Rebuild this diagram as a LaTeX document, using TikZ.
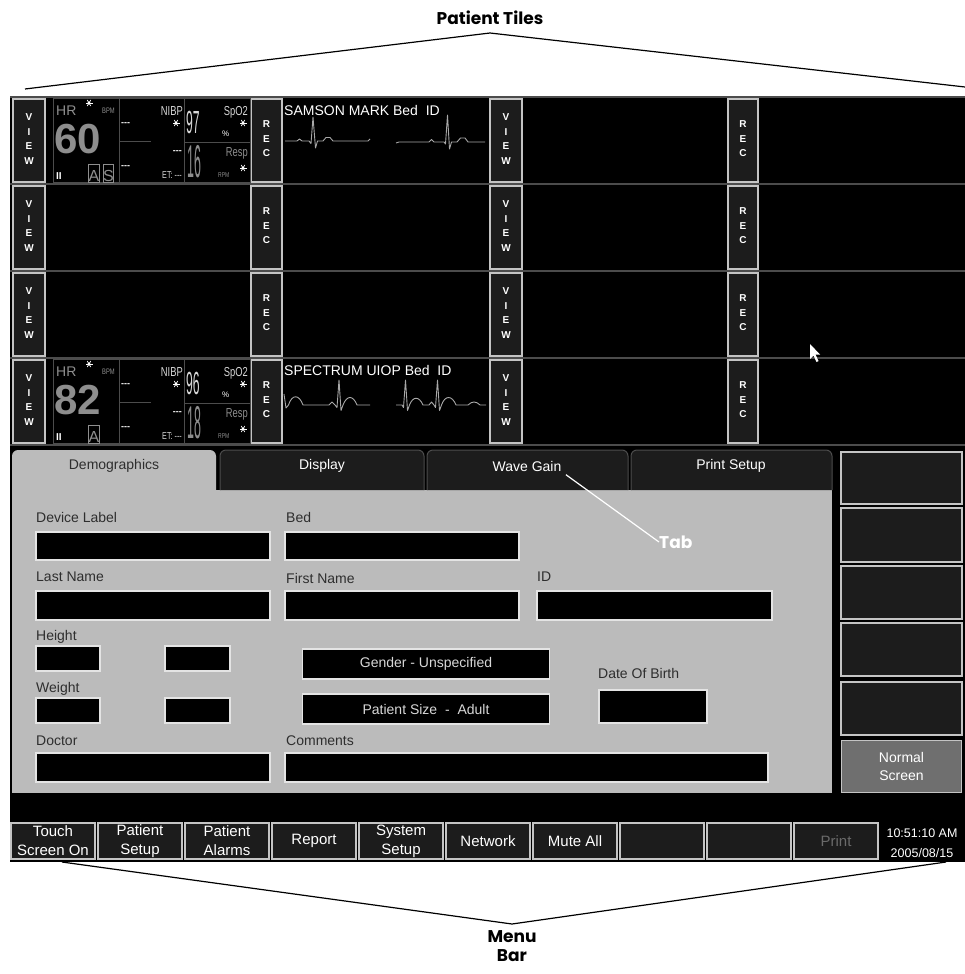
\documentclass[tikz,border=0pt]{standalone}
\usepackage{fontspec}
\setmainfont{Liberation Sans}
\newfontfamily\condfont{Liberation Sans}[FakeStretch=0.72]
\newfontfamily\topnumfont{Liberation Sans}[FakeStretch=0.38]
\newfontfamily\lownumfont{Liberation Sans}[FakeStretch=0.27]
\newfontfamily\calloutfont{Poppins}
\usetikzlibrary{calc,positioning}

\definecolor{panelgray}{HTML}{BBBBBB}
\definecolor{btnfill}{HTML}{1C1C1C}
\definecolor{bevel}{HTML}{C4C4C4}
\definecolor{fieldedge}{HTML}{E4E4E4}
\definecolor{labeltext}{HTML}{2E2E2E}
\definecolor{dimtext}{HTML}{8E8E8E}
\definecolor{brighttext}{HTML}{D8D8D8}
\definecolor{tileline}{HTML}{4C4C4C}
\definecolor{normalfill}{HTML}{6F6F6F}
\definecolor{printgray}{HTML}{6A6A6A}
\definecolor{wavegray}{HTML}{A8A8A8}

\newcommand{\ui}[1]{\fontsize{#1}{#1}\selectfont}

\tikzset{
  screenbtn/.style={fill=btnfill, draw=bevel, line width=1.5pt},
  field/.style={fill=black, draw=fieldedge, line width=1.2pt},
  formlabel/.style={anchor=base west, inner sep=0pt, text=labeltext, font={\ui{14}}},
  menubtn/.style={screenbtn, minimum width=84, minimum height=36, inner sep=0pt,
    align=center, font={\fontsize{15}{19}\selectfont}},
  vletters/.style={align=center, text=white, inner sep=0pt, font={\bfseries\fontsize{10}{14.5}\selectfont}},
  tileframe/.style={draw=tileline, line width=1pt},
  smalltxt/.style={inner sep=0pt, anchor=base west},
  callout/.style={font={\calloutfont\bfseries\fontsize{17}{19}\selectfont}, align=center, inner sep=0pt},
  leader/.style={line width=1.2pt},
  wave/.style={draw=wavegray, line width=0.9pt, line join=round},
  alarm/.pic={
    \foreach \a in {0,60,120}{\draw[white, line width=0.7pt] (\a:3.5) -- (\a+180:3.5);}
    \fill[white] (0,0) circle (1.6);
  }
}

% vital signs block of one occupied tile (local coordinates, row top = 0)
\newcommand{\vitalpanel}[3]{%
  \draw[tileframe] (53,1.5) rectangle (119,85) (119,1.5) rectangle (184,85)
    (184,1.5) rectangle (250,85) (184,45) -- (250,45) (120,44) -- (151,44);
  % heart rate
  \node[smalltxt, text=dimtext, font={\ui{14}}] (hr) at (56,18) {HR};
  \pic at (89,6) {alarm};
  \node[smalltxt, text=dimtext, font={\condfont\ui{8}}] (bpm) at (102,16) {BPM};
  \node[smalltxt, text=dimtext, font={\bfseries\ui{42}}] (hrval) at (54,56) {#1};
  \node[smalltxt, text=white, font={\bfseries\ui{10}}] (lead) at (56,82) {II};
  \draw[tileframe, draw=dimtext] (88,67) rectangle (99,85);
  \node[smalltxt, text=dimtext, font={\ui{16}}] (abox) at (88.5,84) {A};
  % NIBP
  \node[smalltxt, anchor=base east, text=brighttext, font={\condfont\ui{13}}] (nibp) at (183,18) {NIBP};
  \pic at (176,26) {alarm};
  \node[smalltxt, text=white, font={\bfseries\ui{9}}] (sys) at (121,28) {-{}-{}-};
  \node[smalltxt, anchor=base east, text=white, font={\bfseries\ui{9}}] (dia) at (182,56) {-{}-{}-};
  \node[smalltxt, text=white, font={\bfseries\ui{9}}] (mean) at (121,71) {-{}-{}-};
  \node[smalltxt, anchor=base east, text=brighttext, font={\condfont\ui{10}}] (et) at (182,81) {ET: -{}-{}-};
  % SpO2 and respiration
  \node[smalltxt, text=brighttext, font={\topnumfont\ui{32}}] (spoval) at (186,36) {#2};
  \node[smalltxt, anchor=base east, text=brighttext, font={\condfont\ui{13}}] (spo) at (248,18) {SpO2};
  \node[smalltxt, text=white, font={\ui{8}}] (pct) at (222,39) {\%};
  \pic at (243,26) {alarm};
  \node[smalltxt, text=dimtext, font={\lownumfont\ui{46}}] (respval) at (187,80) {#3};
  \node[smalltxt, anchor=base east, text=dimtext, font={\condfont\ui{13}}] (resp) at (248,59) {Resp};
  \node[smalltxt, text=dimtext, font={\condfont\ui{7}}] (rpm) at (218,80) {RPM};
  \pic at (243,71) {alarm};
}

\begin{document}
\begin{tikzpicture}[x=1pt,y=-1pt]
\useasboundingbox (0,0) rectangle (965,974);

% monitor screen
\fill[black] (10,96) rectangle (965,862);

% patient tile rows with VIEW / REC keys
\foreach \r in {0,...,3}{
  \pgfmathsetmacro{\yt}{97+87*\r}
  \draw[tileline, line width=2pt] (10,\yt) -- (965,\yt);
  \foreach \xl/\xr/\word in {13/45/{V\\I\\E\\W},251/282/{R\\E\\C},490/522/{V\\I\\E\\W},728/758/{R\\E\\C}}{
    \draw[screenbtn] (\xl,\yt+2) rectangle (\xr,\yt+85);
    \node[vletters] (key\r-\xl) at ({(\xl+\xr)/2},\yt+42) {\word};
  }
}
\draw[tileline, line width=2pt] (10,445) -- (965,445);

% occupied tile, first row
\begin{scope}[shift={(0,97)}, name prefix=bedA-]
  \vitalpanel{60}{97}{16}
  \draw[tileframe, draw=dimtext] (103,67) rectangle (113,85);
  \node[smalltxt, text=dimtext, font={\ui{16}}] (sbox) at (103,84) {S};
  \node[smalltxt, text=white, font={\ui{14}}] (name) at (284,18) {SAMSON MARK Bed\ \ ID};
  \draw[wave] (285,44) -- (297,44) -- (299.5,42) -- (302,44) -- (309,44) -- (311,46.5) -- (313,20)
    -- (315.5,51) -- (317.5,44) -- (323,44) -- (326,40.5) -- (330,40.5) -- (333,44) -- (368,44) -- (370,42);
  \draw[wave] (396,46) -- (399,45) -- (429,45) -- (431.5,42.5) -- (434,45) -- (444,45) -- (445.5,47)
    -- (447.5,18) -- (449.5,52) -- (451.5,45) -- (457,45) -- (460.5,41) -- (465,41) -- (468,45) -- (485,45);
\end{scope}

% occupied tile, fourth row
\begin{scope}[shift={(0,358)}, name prefix=bedB-]
  \vitalpanel{82}{96}{18}
  \node[smalltxt, text=white, font={\ui{14}}] (name) at (284,17) {SPECTRUM UIOP Bed\ \ ID};
  \draw[wave] (284,36) -- (286,50) -- (288.5,47) .. controls (292,36) and (299,36) .. (303,47) -- (329,47)
    -- (332,44) -- (335,47) -- (337,49.5) -- (339,22) -- (341,52.5) -- (343,47)
    .. controls (347,37) and (353,37) .. (357,47) -- (370,47);
  \draw[wave] (396,47) -- (402,47) -- (403.5,49.5) -- (405.5,22) -- (407.5,52.5) -- (409.5,47)
    .. controls (413,38) and (419,38) .. (423,47) -- (429,47) -- (431.5,44) -- (434,47) -- (435.5,49.5)
    -- (437.5,22) -- (439.5,52.5) -- (441.5,47) .. controls (445,37) and (452,37) .. (456,47) -- (468,47)
    .. controls (472,43) and (476,43) .. (480,47) -- (486,47);
\end{scope}

% mouse pointer
\fill[white] (810,344) -- (810,359) -- (813.5,355.5) -- (816.5,362) -- (818.5,361) -- (815.5,354.5) -- (820,354.5) -- cycle;

% tabs and setup panel
\fill[panelgray] (12,490) rectangle (832,793);
\fill[panelgray, rounded corners=6] (12,492) -- (12,450) -- (216,450) -- (216,492);
\foreach \xa/\xb in {220/424,427/628,631/832}
  \draw[fill=btnfill, draw=tileline, line width=1pt, rounded corners=6] (\xa,490) -- (\xa,450) -- (\xb,450) -- (\xb,490);
\node[font={\ui{14}}, text=labeltext] (tabdemo) at (114,466) {Demographics};
\node[font={\ui{14}}, text=white] (tabdisp) at (322,466) {Display};
\node[font={\ui{14}}, text=white] (wavegain) at (527,466) {Wave Gain};
\node[font={\ui{14}}, text=white] (printset) at (731,466) {Print Setup};

% entry fields
\foreach \xa/\ya/\xb/\yb in {36/532/270/560, 285/532/519/560, 36/591/270/620, 285/591/519/620,
    537/591/772/620, 36/646/100/671, 165/646/230/671, 36/698/100/723, 165/698/230/723,
    599/690/707/723, 36/753/270/782, 285/753/768/782}
  \draw[field] (\xa,\ya) rectangle (\xb,\yb);
\foreach \x/\y/\txt [count=\k] in {36/522/Device Label, 286/522/Bed, 36/581/Last Name, 286/583/First Name,
    537/581/ID, 36/640/Height, 36/692/Weight, 598/678/Date Of Birth, 36/745/Doctor, 286/745/Comments}
  \node[formlabel] (flbl\k) at (\x,\y) {\txt};
\node[field, minimum width=247, minimum height=30, inner sep=0pt, text=brighttext, font={\ui{14}}] (gender) at (426,664) {Gender - Unspecified};
\node[field, minimum width=247, minimum height=30, inner sep=0pt, text=brighttext, font={\ui{14}}] (ptsize) at (426,709) {Patient Size\ \ -\ \ Adult};

% right hand keys
\foreach \ya/\yb in {452/504,508/562,566/619,623/676,682/735}
  \draw[screenbtn] (841,\ya) rectangle (962,\yb);
\node[screenbtn, fill=normalfill, minimum width=120, minimum height=52, inner sep=0pt, align=center,
  text=white, font={\fontsize{14}{18}\selectfont}] (normal) at (901.5,766.5) {Normal\\Screen};

% menu bar
\foreach \lbl/\col [count=\i from 0] in {Touch\\Screen On/white, Patient\\Setup/white, Patient\\Alarms/white,
    Report/white, System\\Setup/white, Network/white, Mute All/white, /white, /white, Print/printgray}
  \node[menubtn, text=\col] (menu\i) at ({53+87*\i},841) {\lbl};
\node[align=center, text=white, inner sep=0pt, font={\fontsize{12.5}{20}\selectfont}] (clock) at (922,843) {10:51:10 AM\\2005/08/15};

% callouts
\node[callout] (tileslbl) at (490,18) {Patient Tiles};
\coordinate (tilesL) at (25,89);
\coordinate (tilesTop) at (490,33);
\coordinate (tilesR) at (965,87);
\draw[leader] (tilesL) -- (tilesTop) -- (tilesR);

\node[callout, text=white, anchor=west] (tabtag) at (659,542) {Tab};
\draw[white, leader] (tabtag.west) -- ($(wavegain.south east)+(1,0)$);

\node[callout] (menulbl) at (512,946) {Menu\\Bar};
\coordinate (menuL) at (62,862);
\coordinate (menuTip) at (512,924);
\coordinate (menuR) at (946,862);
\draw[leader] (menuL) -- (menuTip) -- (menuR);

\end{tikzpicture}
\end{document}
